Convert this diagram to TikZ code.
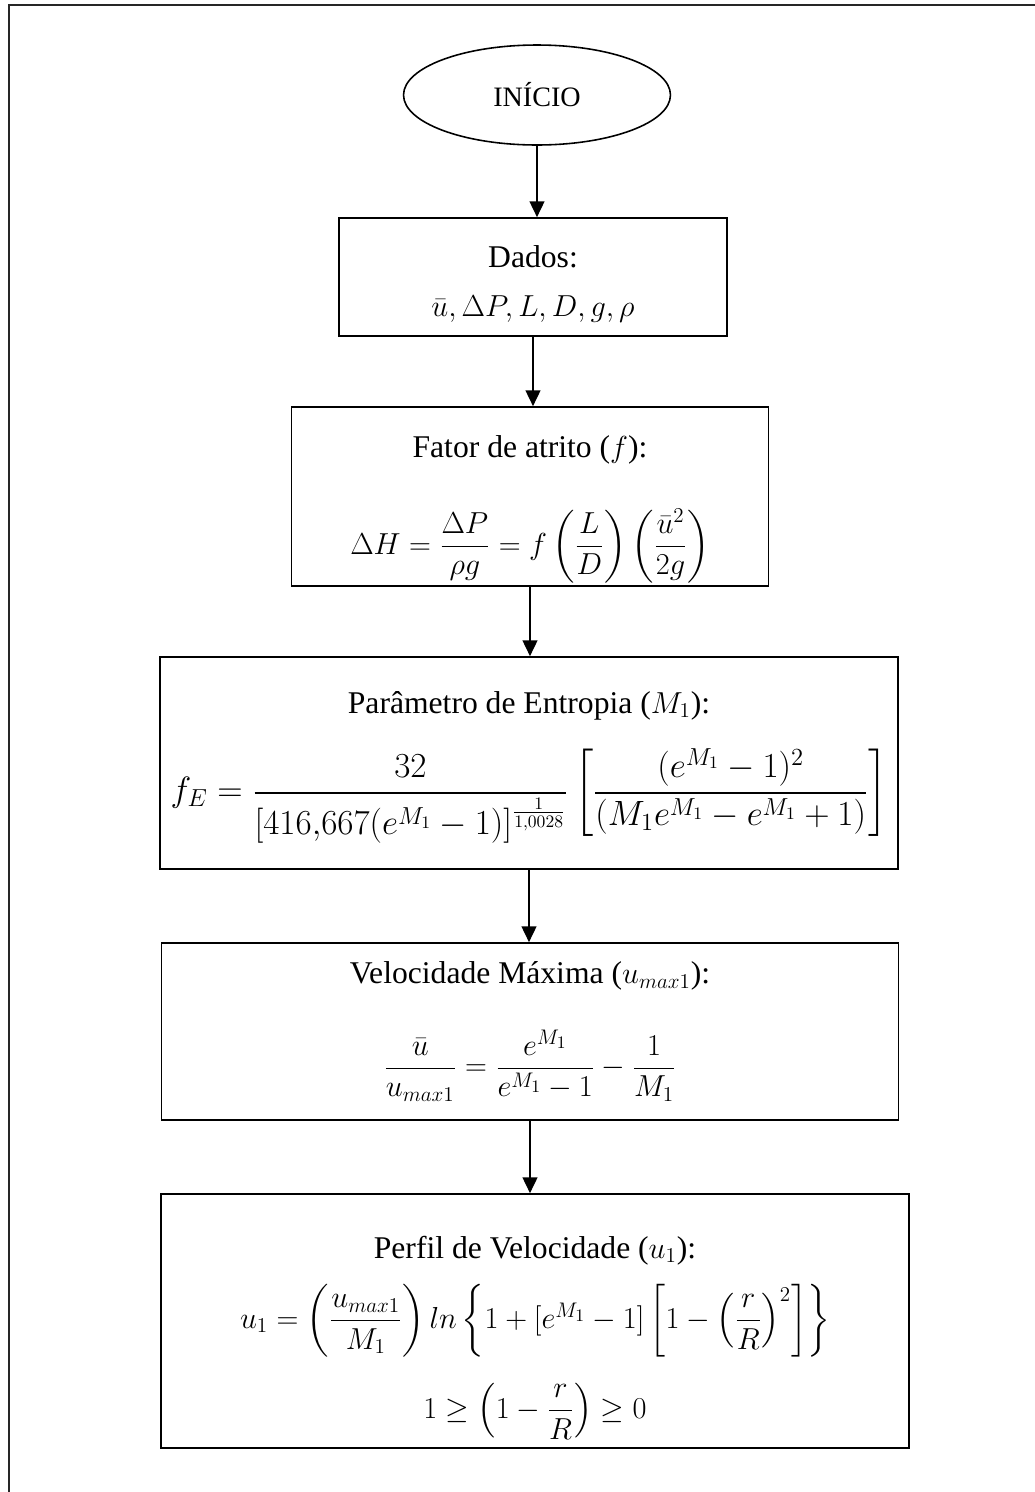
\RequirePackage{fix-cm}
\documentclass[tikz,border=0pt]{standalone}
\usepackage{amsmath}
\usepackage{fontspec}
\setmainfont{Liberation Serif}
\DeclareMathSizes{18}{17.28}{12}{10}
\usetikzlibrary{shapes.geometric,arrows.meta}

\begin{document}
\begin{tikzpicture}[x=0.02cm,y=-0.02cm,
  caixa/.style={draw=black, line width=1pt, rectangle, align=center, inner sep=0pt},
  seta/.style={-{Triangle[length=9pt,width=8.5pt]}, line width=0.8pt},
  font=\fontsize{18}{28}\selectfont]
\useasboundingbox (0,0) rectangle (1035,1492);
\draw[line width=1.2pt, draw=black!85] (9,1492) -- (9,5) -- (1035,5);

\node[ellipse, draw=black, line width=0.9pt, minimum width=5.34cm, minimum height=2cm, inner sep=0pt,
  font=\fontsize{16}{20}\selectfont] (inicio) at (537,95) {INÍCIO};

\node[caixa, minimum width=7.76cm, minimum height=2.36cm] (dados) at (533,277)
  {\rule{0pt}{20pt}Dados:\\ $\bar{u}, \Delta P, L, D, g, \rho$};

\node[caixa, minimum width=9.54cm, minimum height=3.58cm] (atrito) at (530,496.5)
  {\rule{0pt}{27pt}Fator de atrito ($f$):\\[24.5pt]
   $\Delta H = \dfrac{\Delta P}{\rho g} = f\left(\dfrac{L}{D}\right)\left(\dfrac{\bar{u}^2}{2g}\right)$};

\node[caixa, minimum width=14.76cm, minimum height=4.24cm] (entropia) at (529,763)
  {\rule{0pt}{17.5pt}Parâmetro de Entropia ($M_1$):\\[15pt]
   {\fontsize{20}{28}\selectfont
   $f_E = \dfrac{32}{[416{,}667(e^{M_1}-1)]^{\frac{1}{1{,}0028}}}\left[\dfrac{(e^{M_1}-1)^2}{(M_1e^{M_1}-e^{M_1}+1)}\right]$}};

\node[caixa, minimum width=14.74cm, minimum height=3.54cm] (vmax) at (530,1031.5)
  {Velocidade Máxima ($u_{max1}$):\\[21.5pt]
   $\dfrac{\bar{u}}{u_{max1}} = \dfrac{e^{M_1}}{e^{M_1}-1} - \dfrac{1}{M_1}$};

\node[caixa, minimum width=14.96cm, minimum height=5.08cm] (perfil) at (535,1321)
  {\rule{0pt}{31.5pt}Perfil de Velocidade ($u_1$):\\[10pt]
   $u_1 = \left(\dfrac{u_{max1}}{M_1}\right) ln\left\{1+[e^{M_1}-1]\left[1-\left(\dfrac{r}{R}\right)^2\right]\right\}$\\[14pt]
   $1 \geq \left(1-\dfrac{r}{R}\right) \geq 0$};

\draw[seta] (inicio.south) -- (inicio.south |- dados.north);
\draw[seta] (dados.south) -- (dados.south |- atrito.north);
\draw[seta] (atrito.south) -- (atrito.south |- entropia.north);
\draw[seta] (entropia.south) -- (entropia.south |- vmax.north);
\draw[seta] (vmax.south) -- (vmax.south |- perfil.north);
\end{tikzpicture}
\end{document}
